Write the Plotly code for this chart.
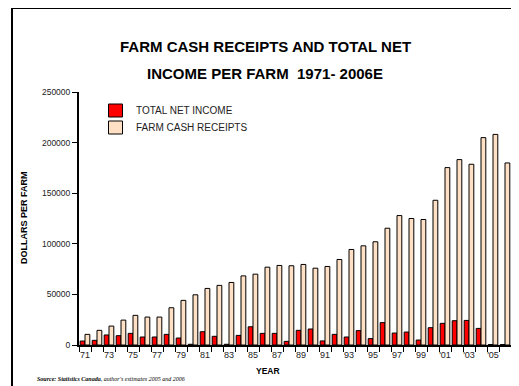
import plotly.graph_objects as go

years = [str(y) for y in range(1971, 2007)]
tick_labels = ["71", "", "73", "", "75", "", "77", "", "79", "", "81", "", "83", "", "85", "", "87", "",
               "89", "", "91", "", "93", "", "95", "", "97", "", "99", "", "'01", "", "'03", "", "'05", ""]

net_income = [3900, 4600, 9900, 9200, 11500, 7900, 7900, 10500, 6900, 700,
              13100, 8600, 700, 9500, 18000, 11500, 11500, 3600, 14500, 15800,
              4000, 10500, 7900, 14200, 6300, 22100, 11800, 12800, 4900, 17100,
              21400, 24000, 24300, 16400, 500, 400]

cash_receipts = [10500, 14500, 18700, 24600, 29300, 27600, 27600, 36800, 44100, 49600,
                 55900, 58900, 61800, 68300, 70000, 76900, 78600, 78300, 79600, 75900,
                 77600, 84500, 94400, 98000, 102000, 115400, 127900, 125000, 124000, 143000,
                 175300, 183200, 178600, 204900, 208100, 179900]

series_names = ["TOTAL NET INCOME", "FARM CASH RECEIPTS"]
series_colors = ["#FF0000", "#FFE0C4"]

FONT = "Liberation Sans, Arial, sans-serif"

fig = go.Figure()
for name, vals, col in zip(series_names, [net_income, cash_receipts], series_colors):
    fig.add_trace(go.Bar(x=years, y=vals, name=name,
                         marker=dict(color=col, line=dict(color="black", width=1))))

fig.update_layout(
    width=511, height=378,
    margin=dict(l=71, r=8, t=84, b=41),
    paper_bgcolor="white", plot_bgcolor="white",
    barmode="group", bargap=0.2, bargroupgap=0.0,
    font=dict(family=FONT, size=8, color="#222222"),
    showlegend=False,
    xaxis=dict(type="category", tickmode="array", tickvals=years, ticktext=tick_labels,
               tickson="boundaries", ticks="outside", ticklen=5, tickwidth=1, tickcolor="black",
               showline=True, linecolor="black", linewidth=2, showgrid=False,
               tickfont=dict(family=FONT, size=9, color="#222222"), tickangle=0),
    yaxis=dict(range=[0, 250000], tickmode="array",
               tickvals=[0, 50000, 100000, 150000, 200000, 250000],
               ticktext=["0", "50000", "100000", "150000", "200000", "250000"],
               ticks="outside", ticklen=5, tickwidth=1, tickcolor="black",
               showline=True, linecolor="black", linewidth=2, showgrid=False, zeroline=False,
               tickfont=dict(family=FONT, size=8.5, color="#222222")),
)

def px_x(px):
    return (px - 79) / 432.0

def px_y(py):
    return (345 - py) / 253.0

def note(text, x, y, size, family=FONT, xanchor="center", angle=0, color="black"):
    fig.add_annotation(text=text, x=px_x(x), y=px_y(y), xref="paper", yref="paper",
                       showarrow=False, xanchor=xanchor, yanchor="middle", textangle=angle,
                       font=dict(family=family, size=size, color=color))

note("<b>FARM CASH RECEIPTS AND TOTAL NET</b>", 265, 47, 15)
note("<b>INCOME PER FARM  1971- 2006E</b>", 265, 73, 15)
note("<b>DOLLARS PER FARM</b>", 24, 217, 9, angle=-90)
note("<b>YEAR</b>", 268, 371, 8.5)
note("<b><i>Source: Statistics Canada</i></b><i>, author's estimates 2005 and 2006</i>",
     35, 379, 6, family="Liberation Serif, Times New Roman, serif", xanchor="left")

# legend
for i, (name, col) in enumerate(zip(series_names, series_colors)):
    yc = 110.5 + 17 * i
    fig.add_shape(type="rect", xref="paper", yref="paper",
                  x0=px_x(108.5), x1=px_x(122.5), y0=px_y(yc + 6.5), y1=px_y(yc - 6.5),
                  line=dict(color="black", width=1), fillcolor=col)
    note(name, 134, yc, 10, xanchor="left", color="#222222")

fig.add_shape(type="rect", xref="paper", yref="paper",
              x0=px_x(12), x1=px_x(540), y0=px_y(400), y1=px_y(8),
              line=dict(color="black", width=2), fillcolor="rgba(0,0,0,0)", layer="below")

fig.write_html("out.html")
